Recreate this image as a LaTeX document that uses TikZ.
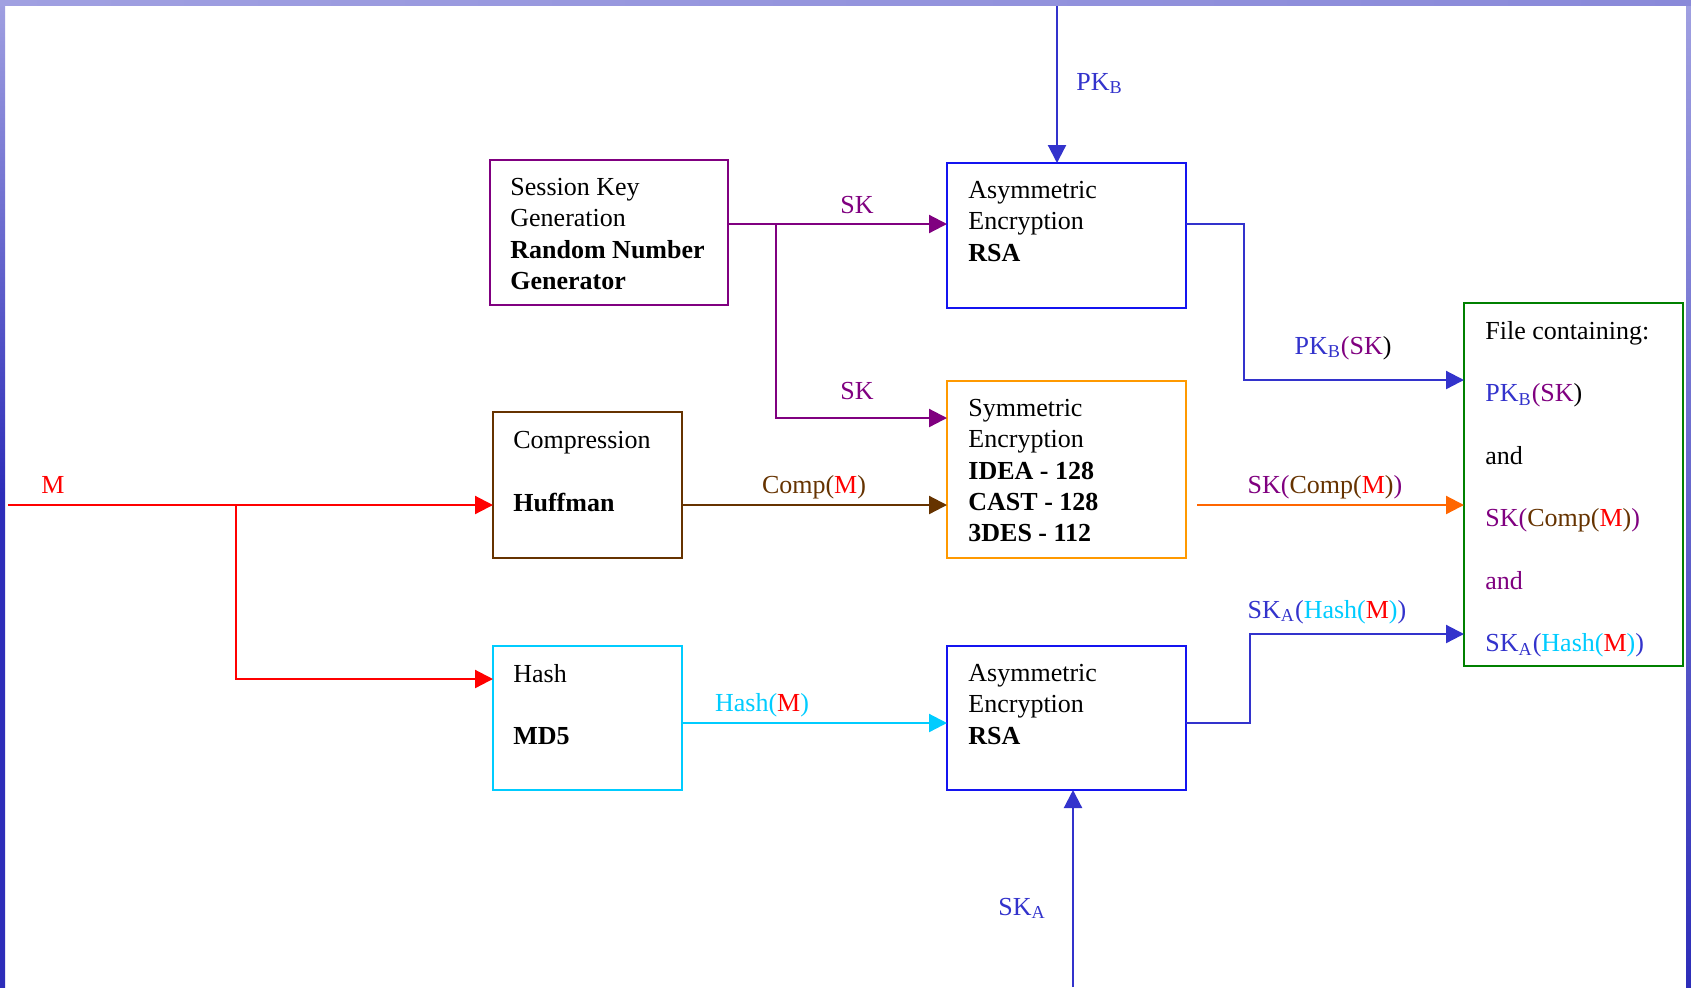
\documentclass[tikz,border=0pt]{standalone}
\usepackage{fontspec}
\setmainfont{Liberation Serif}
\usetikzlibrary{arrows.meta}
\definecolor{keyblue}{RGB}{51,51,204}
\definecolor{rsablue}{RGB}{20,20,240}
\definecolor{skpurple}{RGB}{128,0,128}
\definecolor{compbrown}{RGB}{102,51,0}
\definecolor{msgred}{RGB}{255,0,0}
\definecolor{hashcyan}{RGB}{0,204,255}
\definecolor{symorange}{RGB}{255,153,0}
\definecolor{outorange}{RGB}{255,102,0}
\definecolor{filegreen}{RGB}{0,128,0}
\definecolor{framelight}{RGB}{160,160,225}
\definecolor{framedark}{RGB}{45,45,185}
\newcommand{\pkb}{\textcolor{keyblue}{PK\textsubscript{B}}}
\newcommand{\ska}{\textcolor{keyblue}{SK\textsubscript{A}}}
\newcommand{\compM}{\textcolor{compbrown}{Comp(}\textcolor{msgred}{M}\textcolor{compbrown}{)}}
\newcommand{\hashM}{\textcolor{hashcyan}{Hash(}\textcolor{msgred}{M}\textcolor{hashcyan}{)}}
\newcommand{\skComp}{\textcolor{skpurple}{SK(}\compM\textcolor{skpurple}{)}}
\newcommand{\skaHash}{\ska\textcolor{keyblue}{(}\hashM\textcolor{keyblue}{)}}
\newcommand{\pkbSK}{\pkb\textcolor{skpurple}{(SK})}
\tikzset{box/.style={draw, line width=1pt, inner sep=0pt, outer sep=0pt},
         boxtext/.style={anchor=north west, align=left, inner sep=0pt, font=\fontsize{13}{15.6}\selectfont},
         lab/.style={anchor=base, inner sep=0pt, font=\fontsize{13}{15.6}\selectfont},
         flow/.style={->, line width=1.1pt}
}

\begin{document}
\begin{tikzpicture}[x=0.5pt,y=-0.5pt,>={Triangle[length=9pt,width=9pt]}]
    \useasboundingbox (0,0) rectangle (1691,987);
    \fill[white] (0,0) rectangle (1691,987);
    % frame
    \shade[top color=framelight, bottom color=framedark, middle color=framedark] (0,0) rectangle (5,987);
    \shade[top color=framelight, bottom color=framedark] (1686,0) rectangle (1691,987);
    \shade[left color=framelight, right color=framelight!80!framedark] (0,0) rectangle (1691,5);
            %             PKb
            %   skgen     asymA
            %                        file
            %   comp      sym
            %   hash      asymB
            %             SKa
        \node[box, draw=skpurple, minimum width=119pt, minimum height=72.5pt] (skgen) at (609,232.5) {};
        \node[box, draw=rsablue, minimum width=119.5pt, minimum height=72.5pt] (asymA) at (1066.5,235.5) {};
        \node[box, draw=symorange, minimum width=119.5pt, minimum height=88.5pt] (sym) at (1066.5,469.5) {};
        \node[box, draw=compbrown, minimum width=94.5pt, minimum height=73pt] (comp) at (587.5,485) {};
        \node[box, draw=hashcyan, minimum width=94.5pt, minimum height=72pt] (hash) at (587.5,718) {};
        \node[box, draw=rsablue, minimum width=119.5pt, minimum height=72pt] (asymB) at (1066.5,718) {};
        \node[box, draw=filegreen, minimum width=109.5pt, minimum height=181.5pt] (file) at (1573.5,484.5) {};

        \node[boxtext] (skgenT) at ([shift={(20,18)}]skgen.north west)
            {Session Key\\Generation\\\textbf{Random Number}\\\textbf{Generator}};
        \node[boxtext] (asymAT) at ([shift={(21,18)}]asymA.north west)
            {Asymmetric\\Encryption\\\textbf{RSA}};
        \node[boxtext] (symT) at ([shift={(21,18)}]sym.north west)
            {Symmetric\\Encryption\\\textbf{IDEA - 128}\\\textbf{CAST - 128}\\\textbf{3DES - 112}};
        \node[boxtext] (compT) at ([shift={(20,19)}]comp.north west)
            {Compression\\[15.6pt]\textbf{Huffman}};
        \node[boxtext] (hashT) at ([shift={(20,18)}]hash.north west)
            {Hash\\[15.6pt]\textbf{MD5}};
        \node[boxtext] (asymBT) at ([shift={(21,18)}]asymB.north west)
            {Asymmetric\\Encryption\\\textbf{RSA}};
        \node[boxtext] (fileT) at ([shift={(21,18)}]file.north west)
            {File containing:\\[15.6pt]\pkbSK\\[15.6pt]and\\[15.6pt]\skComp\\[15.6pt]\textcolor{skpurple}{and}\\[15.6pt]\skaHash};

        % free ends and bends
        \coordinate (pkTop) at (1057,6);
        \coordinate (skaBot) at (1073,987);
        \coordinate (mIn) at (8,505);
        \coordinate (mBr) at (236,505);
        \coordinate (mDn) at (236,679);
        \coordinate (skBr) at (776,224);
        \coordinate (skDn) at (776,418);
        \coordinate (pkDn) at (1244,380);
        \coordinate (pkOut) at (1244,224);
        \coordinate (symOut) at (1197,505);
        \coordinate (hsOut) at (1250,723);
        \coordinate (hsUp) at (1250,634);

        \draw[flow, keyblue] (pkTop) -- (asymA.north -| pkTop);
        \draw[flow, keyblue] (skaBot) -- (asymB.south -| skaBot);
        \draw[flow, skpurple] (skgen.east |- skBr) -- (asymA.west |- skBr);
        \draw[flow, skpurple] (skBr) -- (skDn) -- (sym.west |- skDn);
        \draw[flow, keyblue] (asymA.east |- pkOut) -- (pkOut) -- (pkDn) -- (file.west |- pkDn);
        \draw[flow, msgred] (mIn) -- (comp.west |- mIn);
        \draw[flow, msgred] (mBr) -- (mDn) -- (hash.west |- mDn);
        \draw[flow, compbrown] (comp.east |- mIn) -- (sym.west |- mIn);
        \draw[flow, outorange] (symOut) -- (file.west |- symOut);
        \draw[flow, hashcyan] (hash.east |- hsOut) -- (asymB.west |- hsOut);
        \draw[flow, keyblue] (asymB.east |- hsOut) -- (hsOut) -- (hsUp) -- (file.west |- hsUp);

        \node[lab, anchor=base west] (pkbL) at (1076,90) {\pkb};
        \node[lab, text=skpurple] (skL1) at (857,213) {SK};
        \node[lab, text=skpurple] (skL2) at (857,399) {SK};
        \node[lab] (pkbskL) at (1343,354) {\pkbSK};
        \node[lab, text=msgred] (mL) at (53,493) {M};
        \node[lab] (compL) at (814,493) {\compM};
        \node[lab] (skcompL) at (1325,493) {\skComp};
        \node[lab] (hashL) at (762,711) {\hashM};
        \node[lab] (skahashL) at (1327,618) {\skaHash};
        \node[lab, anchor=base west] (skaL) at (998,915) {\ska};
\end{tikzpicture}
\end{document}
